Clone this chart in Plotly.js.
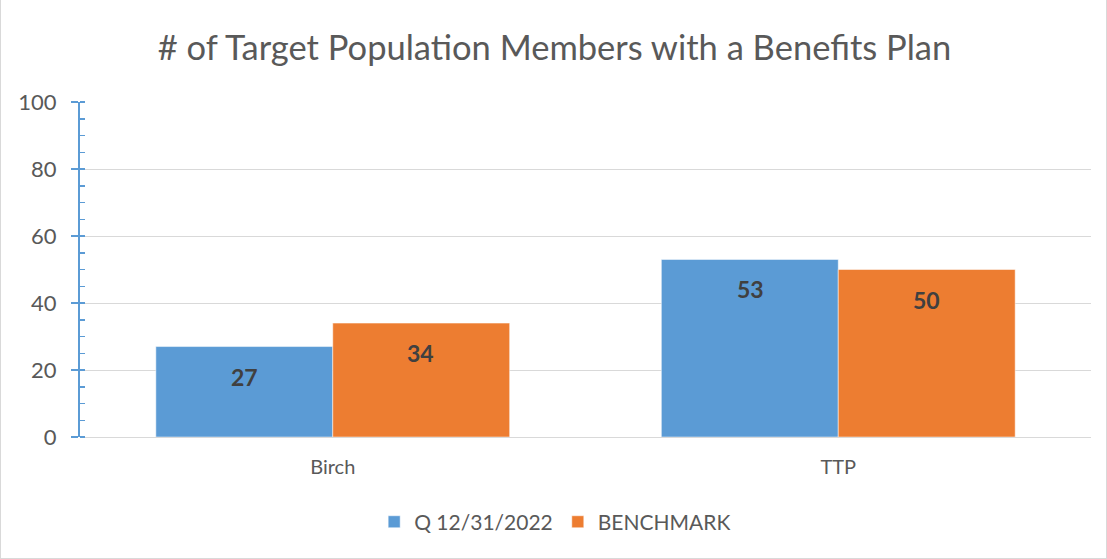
<!DOCTYPE html>
<html>
<head>
<meta charset="utf-8">
<script src="https://cdn.plot.ly/plotly-3.0.1.min.js"></script>
<style>
  html, body { margin: 0; padding: 0; background: #fff; }
  #chart { width: 1107px; height: 559px; box-sizing: border-box; border: 1px solid #d9d9d9; border-top: none; }
</style>
</head>
<body>
<div id="chart"></div>
<script>
const categories = ['Birch', 'TTP'];
const seriesNames = ['Q 12/31/2022', 'BENCHMARK'];
const quarterValues = [27, 53];
const benchmarkValues = [34, 50];
const yTicks = [0, 20, 40, 60, 80, 100];

const colors = ['#5b9bd5', '#ed7d31'];
const textColor = '#595959';
const font = 'Lato, Open Sans, sans-serif';

const traces = [quarterValues, benchmarkValues].map((vals, i) => ({
    type: 'bar',
    name: seriesNames[i],
    x: categories,
    y: vals,
    marker: { color: colors[i], line: { color: '#ffffff', width: 0.5 } },
    hoverinfo: 'x+y'
}));

// value labels sit ~30px under the top of each bar
const annotations = [];
[quarterValues, benchmarkValues].forEach((vals, i) => {
    vals.forEach((v, j) => {
        annotations.push({
            x: categories[j], y: v, xref: 'x', yref: 'y',
            text: '<b>' + v + '</b>',
            showarrow: false,
            yanchor: 'middle',
            yshift: -30,
            xshift: i === 0 ? -88 : 88,
            font: { family: font, size: 23, color: '#404040' }
        });
    });
});

const layout = {
    width: 1107,
    height: 559,
    margin: { l: 79, r: 17, t: 102, b: 122 },
    paper_bgcolor: 'rgba(0,0,0,0)',
    plot_bgcolor: '#ffffff',
    title: {
        text: '# of Target Population Members with a Benefits Plan',
        font: { family: font, size: 34.5, color: textColor },
        x: 0.5, xanchor: 'center', y: 0.915, yanchor: 'middle'
    },
    barmode: 'group',
    bargap: 0.3,
    bargroupgap: 0,
    xaxis: {
        showgrid: false,
        showline: false,
        ticks: '',
        tickfont: { family: font, size: 20, color: textColor },
        ticklabelstandoff: 16
    },
    yaxis: {
        range: [0, 100],
        tickvals: yTicks,
        ticktext: yTicks.map(String),
        showgrid: true,
        gridcolor: '#d9d9d9',
        gridwidth: 1,
        zeroline: true,
        zerolinecolor: '#d9d9d9',
        zerolinewidth: 1,
        showline: true,
        linecolor: '#5b9bd5',
        linewidth: 2,
        ticks: 'outside',
        ticklen: 7,
        tickwidth: 2,
        tickcolor: '#5b9bd5',
        minor: { dtick: 5, ticks: 'inside', ticklen: 5, tickwidth: 1.5, tickcolor: '#5b9bd5', showgrid: false },
        tickfont: { family: font, size: 22, color: textColor },
        ticklabelstandoff: 10
    },
    legend: {
        orientation: 'h',
        x: 0.47, xanchor: 'center',
        y: -0.254, yanchor: 'middle',
        font: { family: font, size: 21, color: textColor },
        itemwidth: 30
    },
    annotations: annotations,
    showlegend: true
};

Plotly.newPlot('chart', traces, layout, { displayModeBar: false, staticPlot: true });
</script>
</body>
</html>
